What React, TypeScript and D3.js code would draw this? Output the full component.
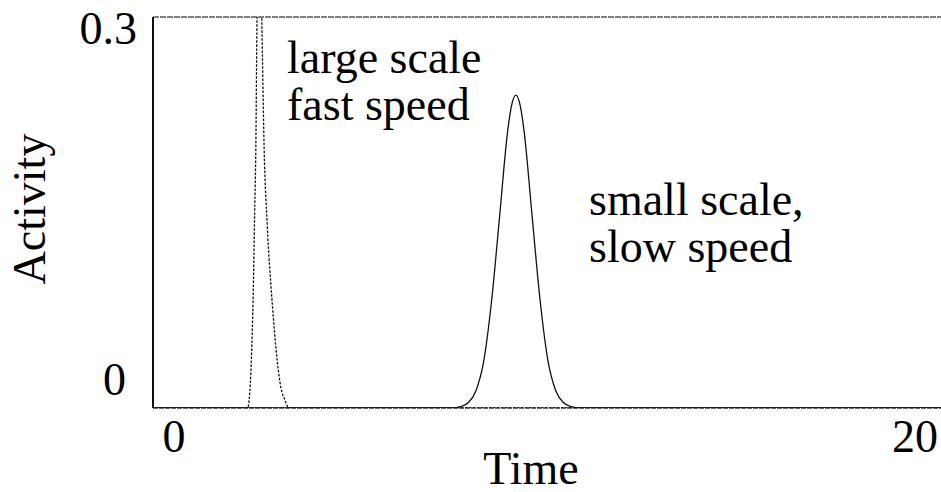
import React from "react";
import * as d3 from "d3";

// Time axis domain and activity domain
const timeDomain: [number, number] = [0, 20];
const activityDomain: [number, number] = [0, 0.3];

const xTickLabels = ["0", "20"];
const yTickLabels = ["0", "0.3"];

// large scale, fast speed (dotted)
const fastTime = [0, 2.0, 2.4, 2.44, 2.5, 2.54, 2.58, 2.61, 2.64, 2.68, 2.72, 2.76, 2.82, 2.9, 3.02, 3.15, 3.25, 3.35, 3.45, 4.0, 20];
const fastActivity = [0, 0, 0, 0.006, 0.04, 0.083, 0.15, 0.2, 0.3, 0.38, 0.36, 0.3, 0.2, 0.14, 0.083, 0.037, 0.015, 0.006, 0, 0, 0];

// small scale, slow speed (solid)
const slowTime = [0, 7.6, 7.8, 8.0, 8.2, 8.4, 8.6, 8.8, 9.0, 9.1, 9.21, 9.32, 9.42, 9.62, 9.82, 10.02, 10.22, 10.42, 10.62, 10.82, 11.0, 20];
const slowActivity = [0, 0, 0.001, 0.004, 0.0135, 0.037, 0.084, 0.148, 0.212, 0.232, 0.24, 0.232, 0.212, 0.148, 0.084, 0.037, 0.0135, 0.004, 0.001, 0, 0, 0];

const W = 941;
const H = 492;
const left = 153;
const right = 941;
const top = 17;
const bottom = 408;

export default function App() {
  const x = d3.scaleLinear().domain(timeDomain).range([left, right]);
  const y = d3.scaleLinear().domain(activityDomain).range([bottom, top]);
  const line = d3
    .line<[number, number]>()
    .x((d) => x(d[0]))
    .y((d) => y(d[1]))
    .curve(d3.curveMonotoneX);
  const fastPts = fastTime.map((t, i) => [t, fastActivity[i]] as [number, number]);
  const slowPts = slowTime.map((t, i) => [t, slowActivity[i]] as [number, number]);
  const font = "'Liberation Serif', 'Times New Roman', serif";
  return (
    <svg
      width={W}
      height={H}
      style={{ position: "absolute", left: 0, top: 0, background: "#fff" }}
      fontFamily={font}
    >
      <defs>
        <clipPath id="plot">
          <rect x={left} y={top} width={right - left} height={bottom - top} />
        </clipPath>
      </defs>
      <rect width={W} height={H} fill="#fff" />
      {/* frame */}
      <line x1={left} x2={right} y1={top} y2={top} stroke="#555" strokeWidth={1.5} strokeDasharray="6,1" />
      <line x1={left} x2={right} y1={bottom} y2={bottom} stroke="#666" strokeWidth={2} strokeDasharray="5,1" />
      <line x1={left} x2={left} y1={top} y2={bottom} stroke="#111" strokeWidth={2} />
      <g clipPath="url(#plot)">
        <path d={line(fastPts) || ""} fill="none" stroke="#111" strokeWidth={1.3} strokeDasharray="2.5,1.5" />
        <path d={line(slowPts) || ""} fill="none" stroke="#111" strokeWidth={1.3} />
      </g>
      {/* y tick labels */}
      <text x={left - 16} y={y(0.3) + 27} fontSize={46} textAnchor="end">{yTickLabels[1]}</text>
      <text x={left - 27} y={y(0) - 13} fontSize={46} textAnchor="end">{yTickLabels[0]}</text>
      {/* x tick labels */}
      <text x={x(0) + 21} y={452} fontSize={46} textAnchor="middle">{xTickLabels[0]}</text>
      <text x={x(20) - 3} y={452} fontSize={46} textAnchor="end">{xTickLabels[1]}</text>
      {/* axis titles */}
      <text x={531} y={484} fontSize={46} textAnchor="middle">Time</text>
      <text transform="translate(45,209) rotate(-90)" fontSize={46} textAnchor="middle">Activity</text>
      {/* annotations */}
      <text x={287} y={73} fontSize={46}>large scale</text>
      <text x={287} y={120} fontSize={46}>fast speed</text>
      <text x={589} y={215} fontSize={46}>small scale,</text>
      <text x={589} y={262} fontSize={46}>slow speed</text>
    </svg>
  );
}
